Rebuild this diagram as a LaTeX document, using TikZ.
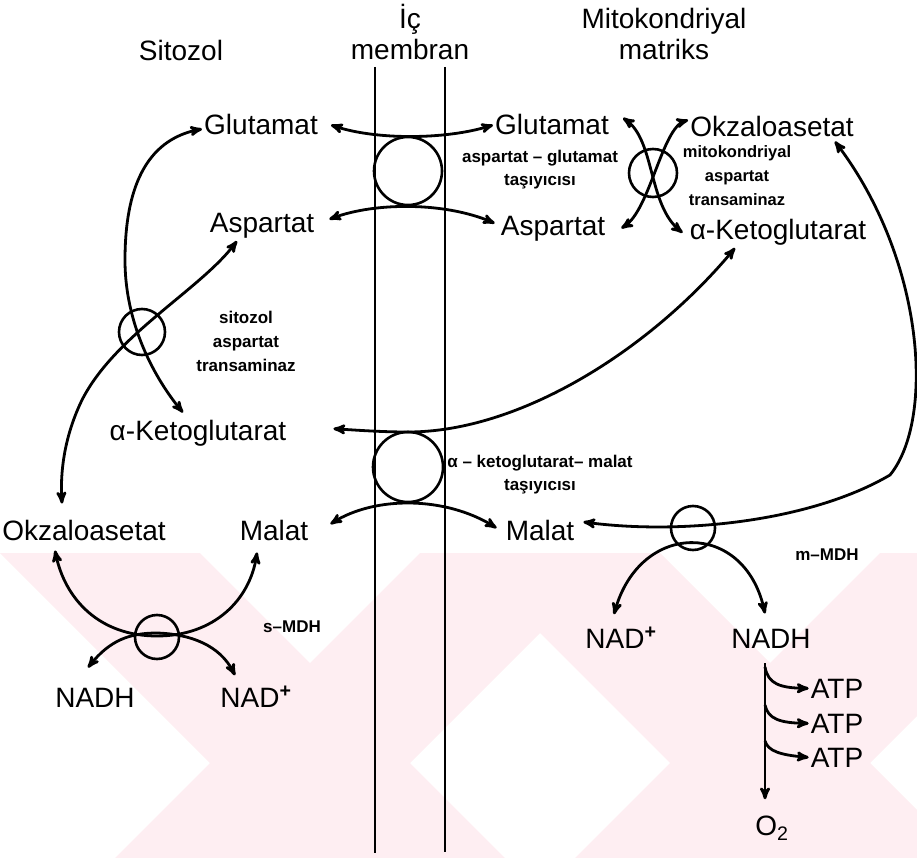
\documentclass[tikz,border=0pt]{standalone}
\usepackage{fontspec}
\setmainfont{Liberation Sans}
\usetikzlibrary{arrows}

\definecolor{wmpink}{RGB}{254,238,242}

\tikzset{
  lbl/.style={font=\fontsize{28}{30}\selectfont, inner sep=2pt},
  head/.style={font=\fontsize{28}{31}\selectfont, align=center, inner sep=0pt},
  tag/.style={font=\fontsize{17}{23}\selectfont\bfseries, align=center, inner sep=0pt},
  carrier/.style={draw, circle, line width=2.6pt, inner sep=0pt},
  link/.style={<->, line width=2.8pt},
}

\begin{document}
\begin{tikzpicture}[>=stealth', x=1pt, y=-1pt]
  \useasboundingbox (0,0) rectangle (917,858);
  \begin{scope}
    \clip (0,553) rectangle (917,858);
    \foreach \a in {0,460}
      \fill[wmpink] (\a,553) -- ++(200,0) -- ++(305,305) -- ++(-200,0) -- cycle;
    \foreach \b in {420,880}
      \fill[wmpink] (\b,553) -- ++(200,0) -- ++(-305,305) -- ++(-200,0) -- cycle;
  \end{scope}
  % membrane
  \draw[line width=2.8pt] (375,67) -- (375,853);
  \draw[line width=2.8pt] (445,67) -- (445,852);
  \node[head] (sit) at (181,50) {Sitozol};
  \node[head] (mem) at (410,32) {İç\\membran};
  \node[head] (mat) at (664,34) {Mitokondriyal\\matriks};
  % metabolites
  \node[lbl, anchor=base] (glu1) at (261,135) {Glutamat};
  \node[lbl, anchor=base] (asp1) at (262,233) {Aspartat};
  \node[lbl, anchor=base] (glu2) at (552,135) {Glutamat};
  \node[lbl, anchor=base] (asp2) at (553,236) {Aspartat};
  \node[lbl, anchor=base] (oaa2) at (772,137) {Okzaloasetat};
  \node[lbl, anchor=base] (akg2) at (778,240) {α-Ketoglutarat};
  \node[lbl, anchor=base] (akg1) at (198,440) {α-Ketoglutarat};
  \node[lbl, anchor=base] (oaa1) at (84,540) {Okzaloasetat};
  \node[lbl, anchor=base] (mal1) at (274,540) {Malat};
  \node[lbl, anchor=base] (mal2) at (540,540) {Malat};
  \node[lbl, anchor=base] (nadh1) at (95,707) {NADH};
  \node[lbl, anchor=base] (nad1) at (256,707) {NAD\textsuperscript{\textbf{+}}};
  \node[lbl, anchor=base] (nad2) at (621,648) {NAD\textsuperscript{\textbf{+}}};
  \node[lbl, anchor=base] (nadh2) at (771,648) {NADH};
  \node[lbl, anchor=base] (atp1) at (837,698) {ATP};
  \node[lbl, anchor=base] (atp2) at (837,733) {ATP};
  \node[lbl, anchor=base] (atp3) at (837,767) {ATP};
  \node[lbl, anchor=base] (o2) at (772,835) {O\textsubscript{2}};
  % enzymes and carriers
  \node[carrier, minimum size=68pt] (agC) at (408,171) {};
  \node[carrier, minimum size=70pt] (kmC) at (408,467) {};
  \node[carrier, minimum size=48pt] (mastC) at (653,173) {};
  \node[carrier, minimum size=46pt] (castC) at (142,332) {};
  \node[carrier, minimum size=44pt] (smdhC) at (157,637) {};
  \node[carrier, minimum size=44pt] (mmdhC) at (693,528) {};
  \node[tag] (agT) at (540,170) {aspartat – glutamat\\taşıyıcısı};
  \node[tag] (kmT) at (540,475) {α – ketoglutarat– malat\\taşıyıcısı};
  \node[tag, font=\fontsize{16.5}{24}\selectfont\bfseries] (mastT) at (737,176) {mitokondriyal\\aspartat\\transaminaz};
  \node[tag, font=\fontsize{17}{24}\selectfont\bfseries] (castT) at (246,341) {sitozol\\aspartat\\transaminaz};
  \node[tag] (smdhT) at (292,627) {s–MDH};
  \node[tag] (mmdhT) at (827,555) {m–MDH};
  % shuttles across the membrane
  \draw[link] ([xshift=11pt]glu1.east) .. controls (375,140) and (445,140) .. (glu2.west);
  \draw[link] ([shift={(13,-7)}]asp1.east) .. controls (375,202) and (445,202) .. ([shift={(-4,-6)}]asp2.west);
  \draw[link] ([shift={(45,-4)}]akg1.east) .. controls (355,430) and (380,432) .. (408,432)
    .. controls (520,432) and (650,350) .. ([xshift=-43pt]akg2.south);
  \draw[link] ([shift={(20,-6)}]mal1.east) .. controls (375,496) and (445,496) .. ([shift={(-7,-2)}]mal2.west);
  % transaminases
  \draw[link] ([shift={(12,-7)}]glu2.east) .. controls (655,140) and (648,205) .. ([xshift=-5pt]akg2.west);
  \draw[link] ([yshift=7pt]oaa2.west) .. controls (662,128) and (650,210) .. ([shift={(14,-1)}]asp2.east);
  \draw[link] ([yshift=-4pt]glu1.west) .. controls (145,140) and (125,190) .. (125,260)
    .. controls (125,330) and (160,385) .. ([shift={(-15,-5)}]akg1.north);
  \draw[link] ([xshift=-25pt]asp1.south) .. controls (200,290) and (115,335) .. (82,400)
    .. controls (65,435) and (60,470) .. ([shift={(-22,-14)}]oaa1.north);
  % malate dehydrogenases
  \draw[link] ([shift={(7,-8)}]mal2.east) .. controls (680,535) and (810,522) .. (890,475)
    .. controls (935,420) and (925,260) .. ([shift={(-21,2)}]oaa2.south east);
  \draw[link] ([shift={(-7,-11)}]nad2.north) .. controls (640,520) and (745,520) .. ([shift={(-6,-13)}]nadh2.north);
  \draw[link] ([shift={(-29,8)}]oaa1.south) .. controls (65,600) and (100,636) .. (157,636)
    .. controls (214,636) and (250,600) .. ([shift={(-17,10)}]mal1.south);
  \draw[link] ([shift={(-7,-18)}]nadh1.north) .. controls (110,640) and (130,633) .. (157,633)
    .. controls (190,634) and (220,645) .. ([shift={(-21,-9)}]nad1.north);
  % respiratory chain
  \coordinate (br1) at (765,667);
  \coordinate (br2) at (765,705);
  \coordinate (br3) at (765,741);
  \draw[->, line width=2.8pt] ([shift={(-6,13)}]nadh2.south) -- ([shift={(-7,-14)}]o2.north);
  \draw[->, line width=2.8pt] (br1) .. controls (768,684) and (780,688) .. (atp1.west);
  \draw[->, line width=2.8pt] (br2) .. controls (768,719) and (780,723) .. (atp2.west);
  \draw[->, line width=2.8pt] (br3) .. controls (768,751) and (780,755) .. (atp3.west);
\end{tikzpicture}
\end{document}
